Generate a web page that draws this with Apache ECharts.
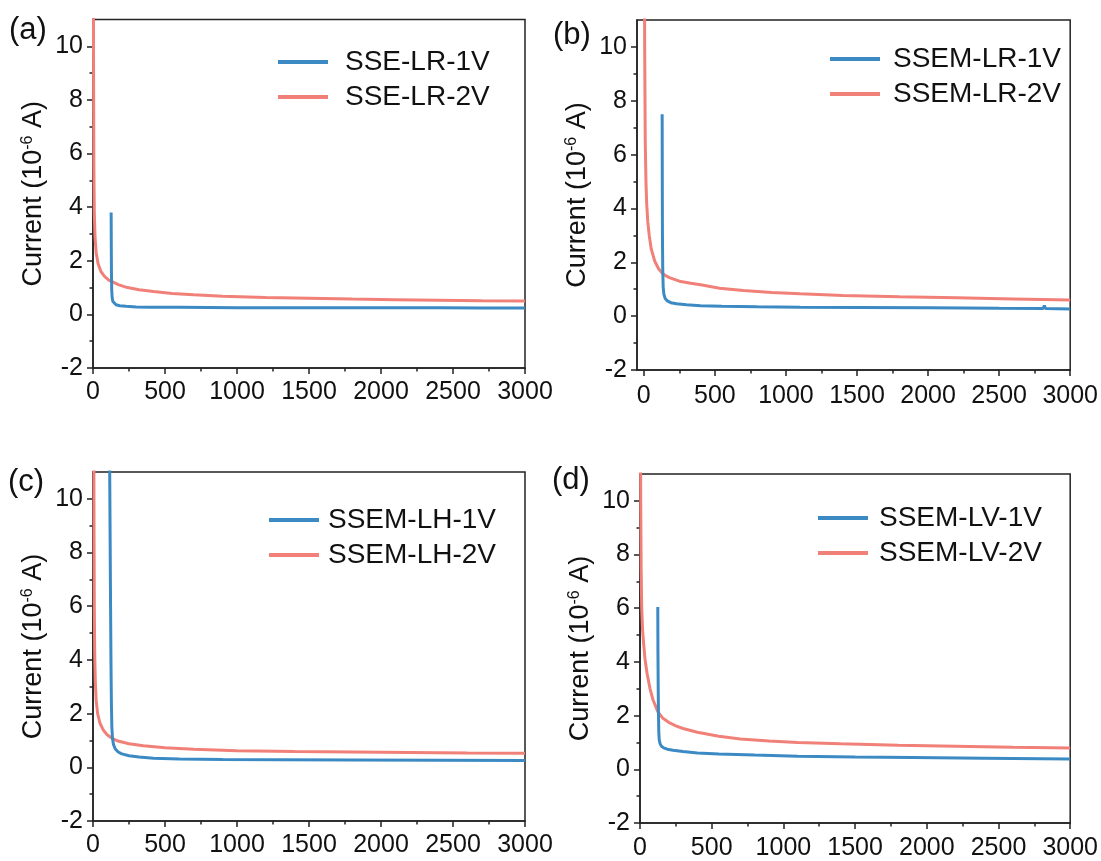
<!DOCTYPE html>
<html>
<head>
<meta charset="utf-8">
<script src="https://cdn.jsdelivr.net/npm/echarts@6/dist/echarts.min.js"></script>
<style>
html,body{margin:0;padding:0;background:#fff;}
#chart{width:1101px;height:861px;}
</style>
</head>
<body>
<div id="chart"></div>
<script>
// ---------- data ----------
const xTicks = [0, 500, 1000, 1500, 2000, 2500, 3000];
const xMinorTicks = [250, 750, 1250, 1750, 2250, 2750];
const yTicks = [-2, 0, 2, 4, 6, 8, 10];
const yMinorTicks = [-1, 1, 3, 5, 7, 9];
const panelLabels = ['(a)', '(b)', '(c)', '(d)'];
const names1V = ['SSE-LR-1V', 'SSEM-LR-1V', 'SSEM-LH-1V', 'SSEM-LV-1V'];
const names2V = ['SSE-LR-2V', 'SSEM-LR-2V', 'SSEM-LH-2V', 'SSEM-LV-2V'];
const xMins = [0, -48, 0, 0];

// time (s), current (1e-6 A)
const a1V = [[126,3.8],[127,2.6],[128,1.6],[130,0.9],[133,0.62],[138,0.48],[146,0.41],[160,0.36],[185,0.32],[230,0.3],[300,0.28],[400,0.27],[600,0.27],[800,0.26],[1000,0.25],[1300,0.25],[1600,0.25],[2000,0.25],[2400,0.25],[2700,0.24],[3000,0.24]];
const a2V = [[2,14],[4,9],[6,5.5],[9,3.8],[14,2.9],[22,2.3],[35,1.9],[55,1.6],[80,1.42],[110,1.28],[140,1.2],[180,1.1],[240,1.0],[320,0.92],[420,0.85],[550,0.78],[700,0.73],[900,0.68],[1200,0.63],[1500,0.6],[1800,0.57],[2100,0.55],[2400,0.53],[2700,0.51],[3000,0.5]];
const b1V = [[129,7.5],[130,5.0],[131,3.0],[133,1.8],[136,1.1],[141,0.82],[150,0.66],[165,0.57],[190,0.5],[230,0.46],[300,0.42],[400,0.39],[550,0.37],[800,0.35],[1100,0.33],[1500,0.32],[2000,0.31],[2500,0.29],[2810,0.28],[2818,0.4],[2826,0.28],[3000,0.27]];
const b2V = [[4,14],[6,10],[10,6.5],[15,5.0],[20,4.2],[28,3.5],[38,3.0],[52,2.5],[77,2.04],[105,1.75],[135,1.56],[180,1.43],[250,1.3],[330,1.22],[400,1.17],[533,1.04],[700,0.95],[900,0.88],[1100,0.83],[1400,0.77],[1800,0.72],[2200,0.68],[2600,0.64],[3000,0.6]];
const c1V = [[112,15],[116,11],[119,8.5],[122,6],[125,3.8],[128,2.3],[131,1.5],[135,1.1],[142,0.85],[155,0.68],[175,0.57],[200,0.5],[250,0.43],[320,0.38],[420,0.34],[600,0.31],[900,0.29],[1300,0.28],[1800,0.27],[2400,0.26],[3000,0.25]];
const c2V = [[5,14],[7,9],[9,6],[12,4.2],[16,3.2],[22,2.5],[32,2.0],[48,1.65],[70,1.4],[100,1.2],[135,1.07],[180,0.97],[250,0.88],[350,0.8],[500,0.73],[700,0.67],[1000,0.62],[1400,0.59],[1800,0.57],[2200,0.55],[2600,0.53],[3000,0.52]];
const d1V = [[124,6.05],[125,4.5],[127,3.0],[129,2.0],[131,1.4],[134,1.1],[140,0.95],[150,0.86],[165,0.8],[190,0.75],[230,0.71],[300,0.66],[400,0.61],[550,0.57],[800,0.53],[1100,0.49],[1500,0.46],[1900,0.44],[2400,0.41],[3000,0.38]];
const d2V = [[3,14],[5,10],[8,7.5],[12,6.0],[18,5.2],[25,4.7],[35,4.1],[50,3.55],[70,3.0],[90,2.6],[124,2.15],[160,1.9],[200,1.75],[250,1.62],[300,1.52],[400,1.38],[550,1.23],[700,1.13],[900,1.05],[1100,1.0],[1400,0.95],[1800,0.9],[2200,0.86],[2600,0.82],[3000,0.79]];
const series1V = [a1V, b1V, c1V, d1V];
const series2V = [a2V, b2V, c2V, d2V];

// ---------- layout / style ----------
const FONT = 'Liberation Sans, Arial, sans-serif';
const TXT = '#111';
const AX = '#222';
const BLUE = '#3b8ac4';
const RED = '#f08078';
const grids = [
  {left: 93, top: 19.5, width: 432, height: 348.5},
  {left: 637, top: 20, width: 435, height: 350},
  {left: 93, top: 472, width: 432, height: 349},
  {left: 640, top: 474, width: 432, height: 349}
];
const labelPos = [[9, 15], [553, 20], [8, 467], [552, 465]];
const legendPos = [[278, 48, 12], [830, 45, 8], [269, 506, 4], [818, 504, 6]];
const xLabelMargin = [12, 14, 12, 13];

const option = {
  animation: false,
  backgroundColor: '#fff',
  textStyle: {fontFamily: FONT},
  title: [], legend: [], grid: [], xAxis: [], yAxis: [], series: []
};

for (let i = 0; i < 4; i++) {
  const g = grids[i];
  option.grid.push(Object.assign({show: true, borderColor: AX, borderWidth: 1.5, backgroundColor: 'transparent'}, g));
  option.title.push({
    text: panelLabels[i], left: labelPos[i][0], top: labelPos[i][1], padding: 0,
    textStyle: {fontSize: 31, fontWeight: 'normal', color: TXT, fontFamily: FONT}
  });
  option.legend.push({
    data: [names1V[i], names2V[i]],
    orient: 'vertical', left: legendPos[i][0], top: legendPos[i][1],
    icon: 'rect', itemWidth: 50, itemHeight: 4, itemGap: 7, padding: 0,
    selectedMode: false,
    textStyle: {fontSize: 28, color: TXT, lineHeight: 28, fontFamily: FONT, padding: [0, 0, 0, legendPos[i][2]]}
  });
  const lineSt = {color: AX, width: 1.5};
  // main x axis
  option.xAxis.push({
    type: 'value', gridIndex: i, position: 'bottom', min: xMins[i], max: 3000,
    axisLine: {show: true, onZero: false, lineStyle: lineSt},
    axisTick: {show: true, customValues: xTicks, length: 6, lineStyle: lineSt},
    axisLabel: {customValues: xTicks, fontSize: 25, color: TXT, margin: xLabelMargin[i], fontFamily: FONT,
      formatter: function (v) { return String(v); }},
    splitLine: {show: false}
  });
  // minor x ticks
  option.xAxis.push({
    type: 'value', gridIndex: i, position: 'bottom', min: xMins[i], max: 3000,
    axisLine: {show: false, onZero: false},
    axisTick: {show: true, customValues: xMinorTicks, length: 3.5, lineStyle: lineSt},
    axisLabel: {show: false},
    splitLine: {show: false}
  });
  option.yAxis.push({
    type: 'value', gridIndex: i, position: 'left', min: -2, max: 11,
    name: 'Current (10{sup|-6} A)', nameLocation: 'middle', nameGap: 46,
    nameTextStyle: {fontSize: 27, color: TXT, fontFamily: FONT,
      rich: {sup: {fontSize: 16, verticalAlign: 'top', color: TXT, fontFamily: FONT}}},
    axisLine: {show: true, onZero: false, lineStyle: lineSt},
    axisTick: {show: true, customValues: yTicks, length: 6, lineStyle: lineSt},
    axisLabel: {customValues: yTicks, fontSize: 25, color: TXT, margin: 10, fontFamily: FONT,
      formatter: function (v) { return String(v); }},
    splitLine: {show: false}
  });
  option.yAxis.push({
    type: 'value', gridIndex: i, position: 'left', offset: 0, min: -2, max: 11,
    axisLine: {show: false, onZero: false},
    axisTick: {show: true, customValues: yMinorTicks, length: 3.5, lineStyle: lineSt},
    axisLabel: {show: false},
    splitLine: {show: false}
  });
  option.series.push({
    type: 'line', name: names1V[i], xAxisIndex: 2 * i, yAxisIndex: 2 * i,
    data: series1V[i], symbol: 'none', showSymbol: false, clip: true,
    lineStyle: {color: BLUE, width: 3}, itemStyle: {color: BLUE}, z: 3
  });
  option.series.push({
    type: 'line', name: names2V[i], xAxisIndex: 2 * i, yAxisIndex: 2 * i,
    data: series2V[i], symbol: 'none', showSymbol: false, clip: true,
    lineStyle: {color: RED, width: 3}, itemStyle: {color: RED}, z: 2
  });
}

const chart = echarts.init(document.getElementById('chart'), null, {renderer: 'canvas'});
chart.setOption(option);
</script>
</body>
</html>
